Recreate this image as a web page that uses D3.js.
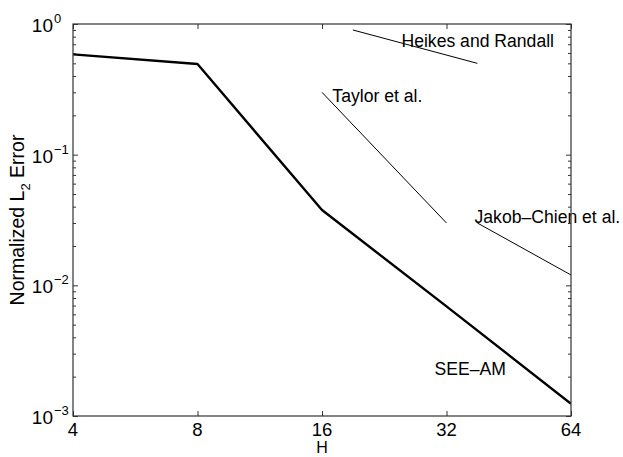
<!DOCTYPE html>
<html>
<head>
<meta charset="utf-8">
<script src="https://cdn.jsdelivr.net/npm/d3@7"></script>
<style>
  html, body { margin: 0; padding: 0; background: #fff; }
  svg { display: block; }
  text { font-family: "Liberation Sans", Arial, Helvetica, sans-serif; fill: #000; }
</style>
</head>
<body>
<svg id="chart" width="623" height="457"></svg>
<script>
// Grid sizes H and the normalized L2 error of each scheme
const gridH = [4, 8, 16, 32, 64];
const seeAmError = [0.586, 0.494, 0.0377, 0.0069, 0.00124];

// Convergence reference segments from other models
const heikesH = [19, 38];
const heikesError = [0.9, 0.5];
const taylorH = [16, 32];
const taylorError = [0.3, 0.03];
const jakobH = [38, 64];
const jakobError = [0.03, 0.012];

// Axis ticks
const xTicks = [4, 8, 16, 32, 64];
const yDecades = [-3, -2, -1, 0];

// Labels, anchored in data units (H, error)
const labelText = ["Heikes and Randall", "Taylor et al.", "Jakob\u2013Chien et al.", "SEE\u2013AM"];
const labelH = [24.9, 16.95, 37.4, 29.95];
const labelError = [0.67, 0.253, 0.0301, 0.00206];

const svg = d3.select("#chart");
const W = 623, Hgt = 457;
const m = { left: 73, right: 52, top: 24, bottom: 41 };
const x0 = m.left, x1 = W - m.right, y0 = m.top, y1 = Hgt - m.bottom;

const x = d3.scaleLog().base(2).domain([4, 64]).range([x0, x1]);
const y = d3.scaleLog().domain([1e-3, 1]).range([y1, y0]);

const clipId = "plotclip";
svg.append("defs").append("clipPath").attr("id", clipId)
  .append("rect").attr("x", x0).attr("y", y0).attr("width", x1 - x0).attr("height", y1 - y0);

const line = d3.line().x(d => x(d[0])).y(d => y(d[1]));
const plot = svg.append("g").attr("clip-path", `url(#${clipId})`);

// Reference slopes
[[heikesH, heikesError], [taylorH, taylorError], [jakobH, jakobError]].forEach(([hs, es]) => {
  plot.append("path")
    .datum(d3.zip(hs, es))
    .attr("d", line)
    .attr("fill", "none")
    .attr("stroke", "#000")
    .attr("stroke-width", 1);
});

// SEE-AM curve
plot.append("path")
  .datum(d3.zip(gridH, seeAmError))
  .attr("d", line)
  .attr("fill", "none")
  .attr("stroke", "#000")
  .attr("stroke-width", 2.4)
  .attr("stroke-linejoin", "round");

// Annotations
svg.append("g").selectAll("text")
  .data(d3.zip(labelText, labelH, labelError))
  .join("text")
  .attr("x", d => x(d[1]))
  .attr("y", d => y(d[2]))
  .attr("font-size", 17.6)
  .text(d => d[0]);

// Axes: ticks point inward on all four sides
const majorY = yDecades.map(e => Math.pow(10, e));
const minorY = [];
yDecades.slice(0, -1).forEach(e => {
  for (let k = 2; k <= 9; k++) minorY.push(k * Math.pow(10, e));
});

function styleAxis(g) {
  g.select(".domain").remove();
  g.selectAll(".tick line").attr("stroke", "#333").attr("stroke-width", 1);
  g.selectAll(".tick text").remove();
}

svg.append("g").attr("transform", `translate(0,${y1})`)
  .call(d3.axisBottom(x).tickValues(xTicks).tickSize(-5)).call(styleAxis);
svg.append("g").attr("transform", `translate(0,${y0})`)
  .call(d3.axisTop(x).tickValues(xTicks).tickSize(-5)).call(styleAxis);
svg.append("g").attr("transform", `translate(${x0},0)`)
  .call(d3.axisLeft(y).tickValues(majorY).tickSize(-5)).call(styleAxis);
svg.append("g").attr("transform", `translate(${x1},0)`)
  .call(d3.axisRight(y).tickValues(majorY).tickSize(-5)).call(styleAxis);
svg.append("g").attr("transform", `translate(${x0},0)`)
  .call(d3.axisLeft(y).tickValues(minorY).tickSize(-3)).call(styleAxis);
svg.append("g").attr("transform", `translate(${x1},0)`)
  .call(d3.axisRight(y).tickValues(minorY).tickSize(-3)).call(styleAxis);

// Frame
svg.append("rect")
  .attr("x", x0).attr("y", y0).attr("width", x1 - x0).attr("height", y1 - y0)
  .attr("fill", "none").attr("stroke", "#333").attr("stroke-width", 1.2);

// X tick labels
svg.append("g").selectAll("text")
  .data(xTicks)
  .join("text")
  .attr("x", d => x(d))
  .attr("y", y1 + 20)
  .attr("text-anchor", "middle")
  .attr("font-size", 18.5)
  .text(d => d);

// Y tick labels as powers of ten
const yl = svg.append("g").selectAll("g")
  .data(yDecades)
  .join("g")
  .attr("transform", d => `translate(0,${y(Math.pow(10, d))})`);
yl.append("text")
  .attr("x", 53).attr("y", 8)
  .attr("text-anchor", "end")
  .attr("font-size", 19)
  .text("10");
yl.append("text")
  .attr("x", 54).attr("y", -1)
  .attr("font-size", 13)
  .text(d => d === 0 ? "0" : "\u2212" + Math.abs(d));

// Axis titles
svg.append("text")
  .attr("x", (x0 + x1) / 2)
  .attr("y", Hgt - 3.6)
  .attr("text-anchor", "middle")
  .attr("font-size", 16)
  .text("H");

const yt = svg.append("text")
  .attr("transform", `translate(24,${(y0 + y1) / 2}) rotate(-90)`)
  .attr("text-anchor", "middle")
  .attr("font-size", 19.5);
yt.append("tspan").text("Normalized L");
yt.append("tspan").attr("font-size", 13).attr("dy", 6).text("2");
yt.append("tspan").attr("dy", -6).text(" Error");
</script>
</body>
</html>
